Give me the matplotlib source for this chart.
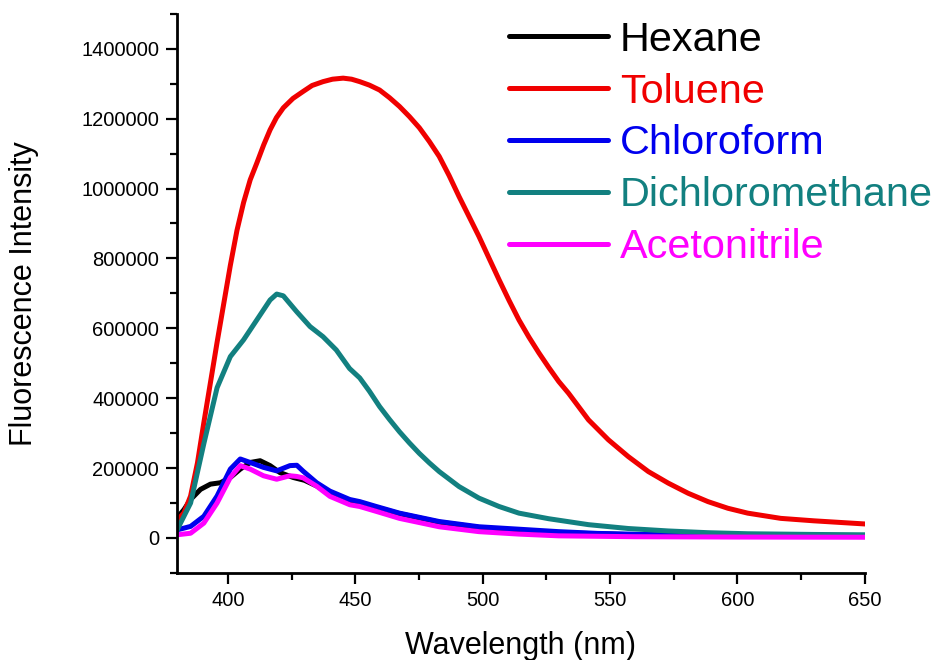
import numpy as np
import matplotlib
matplotlib.use('Agg')
import matplotlib.pyplot as plt
from matplotlib.ticker import MultipleLocator, FuncFormatter

plt.rcParams['font.family'] = ['Liberation Sans', 'DejaVu Sans']

# values
hexane_wl = [380, 382.7, 385.3, 389.2, 393.1, 397, 400.9, 404.8, 408.7, 412.6, 416.5, 420.4, 425.6, 430,
             435, 440, 447.8, 458, 467, 483, 498.5, 514, 530, 560, 600, 650]
hexane_int = [57000, 81000, 110000, 139000, 154000, 158000, 173000, 197000, 216000, 221000, 207000, 187000,
              173000, 165000, 148000, 126000, 108000, 88000, 70000, 45000, 30000, 22000, 15000, 9000, 6000, 4000]

toluene_wl = [380, 382.7, 385.3, 388, 390.5, 395.7, 400.9, 403.5, 406.1, 408.7, 411.3, 414, 416.5, 419, 421.7,
              425.5, 429.5, 433, 437.3, 441, 445.2, 448.5, 451.7, 455.5, 459.5, 463.4, 467.3, 471.2, 475.1,
              479, 482.9, 486.8, 490.7, 494.6, 498.5, 502.5, 506.4, 510.3, 514.2, 518.1, 522, 525.9, 529.8,
              533.7, 541.5, 549.3, 557.1, 565, 572.8, 580.6, 588.4, 596.2, 604, 617, 630, 650]
toluene_int = [50000, 72000, 120000, 215000, 330000, 560000, 780000, 880000, 960000, 1025000, 1073000,
               1125000, 1168000, 1203000, 1231000, 1258000, 1278000, 1295000, 1306000, 1313000, 1316000,
               1313000, 1306000, 1296000, 1282000, 1260000, 1235000, 1206000, 1174000, 1135000, 1092000,
               1037000, 977000, 920000, 863000, 800000, 739000, 680000, 624000, 575000, 530000, 488000,
               448000, 414000, 338000, 281000, 233000, 190000, 157000, 128000, 104000, 85000, 71000, 56000,
               49000, 40000]

chloroform_wl = [380, 385.3, 390.5, 395.7, 400.9, 404.8, 408.7, 413.9, 419.1, 424.3, 427, 429.5, 434.8, 440,
                 447.8, 451.7, 458.2, 467.3, 482.9, 498.5, 514.2, 529.8, 545, 570, 600, 650]
chloroform_int = [23000, 33000, 62000, 120000, 197000, 226000, 216000, 202000, 192000, 207000, 208000, 191000,
                  158000, 134000, 110000, 104000, 90000, 71000, 47000, 32000, 25000, 18000, 13000, 9000, 7000, 6000]

dcm_wl = [380, 385.3, 390.5, 395.7, 400.9, 406.1, 411.3, 416.5, 419.1, 421.7, 426.9, 432.2, 437.3, 442.5,
          447.7, 451.7, 455.5, 459.5, 463.4, 467.3, 471.2, 475.1, 479, 482.9, 490.7, 498.5, 506.4, 514.2,
          525.9, 541.5, 557.1, 572.8, 588.4, 604, 630, 650]
dcm_int = [23000, 100000, 270000, 430000, 519000, 567000, 624000, 681000, 698000, 693000, 648000, 605000,
           576000, 538000, 485000, 458000, 420000, 376000, 339000, 304000, 272000, 242000, 215000, 190000,
           147000, 114000, 90000, 71000, 55000, 38000, 27000, 20000, 15000, 12000, 10000, 9000]

acn_wl = [380, 385.3, 390.5, 395.7, 400.9, 404.8, 408.7, 413.9, 419.1, 424.3, 427, 429.5, 434.8, 440, 447.8,
          451.7, 458.2, 467.3, 482.9, 498.5, 514.2, 529.8, 560, 600, 650]
acn_int = [9000, 13500, 42500, 100000, 173000, 207000, 197000, 178000, 168000, 178000, 176000, 172000, 148000,
           119000, 95000, 90000, 76000, 56000, 32000, 18000, 11000, 6000, 3500, 2500, 2000]

fig = plt.figure(figsize=(9.37, 6.6), dpi=100)
ax = fig.add_axes([0.189, 0.132, 0.734, 0.847])

style = dict(lw=3.6, solid_joinstyle='round', solid_capstyle='round')
ax.plot(hexane_wl, hexane_int, color='black', label='Hexane', **style)
ax.plot(toluene_wl, toluene_int, color='#f00000', label='Toluene', **style)
ax.plot(chloroform_wl, chloroform_int, color='#0000ee', label='Chloroform', **style)
ax.plot(dcm_wl, dcm_int, color='#128080', label='Dichloromethane', **style)
ax.plot(acn_wl, acn_int, color='#ff00ff', label='Acetonitrile', **style)

ax.set_xlim(380, 650)
ax.set_ylim(-100000, 1500000)
ax.xaxis.set_minor_locator(MultipleLocator(25))
ax.yaxis.set_minor_locator(MultipleLocator(100000))
ax.set_yticks(np.arange(0, 1400001, 200000))
ax.set_xticks([400, 450, 500, 550, 600, 650])
ax.yaxis.set_major_formatter(FuncFormatter(lambda v, p: '%d' % v))

for s in ['top', 'right']:
    ax.spines[s].set_visible(False)
for s in ['left', 'bottom']:
    ax.spines[s].set_linewidth(2)

ax.tick_params(which='major', length=8, width=1.6, labelsize=14.5, pad=5, color='black')
ax.tick_params(which='minor', length=5, width=1.6)

ax.set_xlabel('Wavelength (nm)', fontsize=22, labelpad=15)
ax.set_ylabel('Fluorescence Intensity', fontsize=22, labelpad=30)

leg = ax.legend(loc='upper left', bbox_to_anchor=(0.521, 1.0), bbox_transform=fig.transFigure,
                frameon=False, fontsize=29.8, handlelength=2.4, handletextpad=0.28,
                labelspacing=0.335, borderpad=0.0, labelcolor='linecolor')

fig.savefig('out.png', dpi=100)
